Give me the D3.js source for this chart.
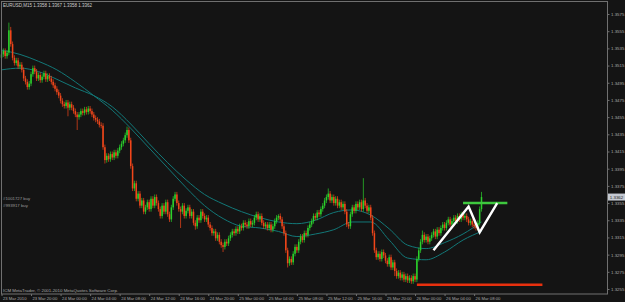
<!DOCTYPE html>
<html>
<head>
<meta charset="utf-8">
<script src="https://cdn.jsdelivr.net/npm/d3@7"></script>
<style>
  html, body { margin: 0; padding: 0; background: #141414; }
  svg { display: block; }
</style>
</head>
<body>
<svg id="chart"></svg>
<script>
// EURUSD M15, 23 Mar 16:00 -> 26 Mar 09:00 (2010)
// closes in pips above 1.3000, one per bar
const closes = [
  528,532,526,530,556,540,524,518,521,514,
  516,510,500,496,490,494,505,512,508,500,
  504,498,502,506,499,503,500,496,492,488,
  484,480,474,470,468,472,466,470,466,462,
  458,455,458,462,460,464,461,465,462,458,
  454,452,450,446,445,420,405,410,406,412,
  408,414,410,416,420,424,428,434,440,428,
  398,372,378,360,366,352,358,345,350,356,
  348,360,352,362,355,348,340,352,345,356,
  342,336,350,360,365,355,348,345,352,340,
  346,350,340,345,332,328,338,335,345,340,
  336,338,330,326,320,322,314,318,310,306,
  304,310,308,314,318,322,320,325,322,328,
  326,332,330,328,334,330,332,338,342,336,
  340,332,328,330,326,330,324,328,334,338,
  340,336,328,320,300,285,290,286,296,304,
  300,310,316,312,320,318,326,330,334,340,
  338,344,342,348,352,358,362,366,358,362,
  355,360,352,356,350,354,345,330,328,342,
  350,346,354,350,356,348,358,352,346,350,
  338,320,300,292,296,290,298,294,288,284,
  292,280,286,276,270,274,268,272,266,270,
  265,268,264,270,266,290,300,310,318,312,
  316,310,314,318,322,316,324,320,326,330,
  326,332,336,330,334,338,334,340,336,342,
  338,340,336,332,334,330,328,326,332,348,
  362
];
const firstOpen = 524;
// visible long wicks (bar index -> pips)
const highSpikes = {4: 565, 5: 560, 68: 444, 150: 342, 177: 372, 196: 384, 228: 323, 260: 368};
const lowSpikes = {36: 456, 41: 440, 56: 401, 97: 326, 105: 324, 120: 298, 155: 280, 213: 270, 222: 261};
const wickPad = 3;

// moving averages, sampled every 10 bars (pips above 1.3000)
const maIndex = [0,10,20,30,40,50,60,70,80,90,100,110,120,130,140,150,160,170,180,190,200,210,220,230,240,250,260];
const maSlow = [510,512,508,499,489,480,467,447,424,402,382,365,354,345,338,333,331,335,344,347,341,325,306,302,309,319,333];
const maFast = [533,528,520,510,496,480,463,442,419,396,373,352,337,328,326,322,316,319,324,333,333,312,291,289,298,312,322];

// hand-drawn objects
const zigIndex = [234, 253, 259, 268.5];
const zigPrice = [300, 351, 321, 355];
const greenLevel = {from: 250, to: 274, price: 355};
const redLevel = {from: 225, to: 293, price: 260};

const priceTicks = [1.3575,1.3555,1.3535,1.3515,1.3495,1.3475,1.3455,1.3435,1.3415,1.3395,1.3375,1.3355,1.3335,1.3315,1.3295,1.3275,1.3255];
const timeIndex = [0,16,32,48,64,80,96,112,128,144,160,176,192,208,224,240,256];
const timeLabels = ['23 Mar 2010','23 Mar 20:00','24 Mar 00:00','24 Mar 04:00','24 Mar 08:00','24 Mar 12:00','24 Mar 16:00','24 Mar 20:00','25 Mar 00:00','25 Mar 04:00','25 Mar 08:00','25 Mar 12:00','25 Mar 16:00','25 Mar 20:00','26 Mar 00:00','26 Mar 04:00','26 Mar 08:00'];
const lastPrice = 1.3362;
const header = 'EURUSD,M15  1.3358 1.3367 1.3358 1.3362';
const orderLabels = ['#1001727 buy', '#993917 buy'];
const footer = 'ICM MetaTrader, \u00A9 2001-2010 MetaQuotes Software Corp.';

const W = 625, H = 302;
const font = '"Liberation Sans", Arial, sans-serif';
const pip = (v) => 1.3 + v / 10000;

const svg = d3.select('#chart').attr('width', W).attr('height', H);
svg.append('rect').attr('width', W).attr('height', H).attr('fill', '#141414');

const x = d3.scaleLinear().domain([0, 260]).range([1.5, 481.5]);
const y = d3.scaleLinear().domain([1.3255, 1.3575]).range([289, 14]);

const bars = closes.map((c, i) => {
  const o = i === 0 ? firstOpen : closes[i - 1];
  const hi = highSpikes[i] !== undefined ? highSpikes[i] : Math.max(o, c) + wickPad;
  const lo = lowSpikes[i] !== undefined ? lowSpikes[i] : Math.min(o, c) - wickPad;
  return {i, o: pip(o), c: pip(c), h: pip(hi), l: pip(lo)};
});

// moving averages
const maLine = d3.line()
  .x((d) => x(d[0]))
  .y((d) => y(pip(d[1])))
  .curve(d3.curveMonotoneX);

[maSlow, maFast].forEach((ma) => {
  svg.append('path')
    .attr('d', maLine(maIndex.map((k, j) => [k, ma[j]])))
    .attr('fill', 'none')
    .attr('stroke', '#127878')
    .attr('stroke-width', 1);
});

// candles
const candle = svg.append('g').attr('class', 'candles');
const up = '#2bd12b', down = '#f2461a';

candle.selectAll('line')
  .data(bars)
  .enter()
  .append('line')
  .attr('x1', (d) => x(d.i))
  .attr('x2', (d) => x(d.i))
  .attr('y1', (d) => y(d.h))
  .attr('y2', (d) => y(d.l))
  .attr('stroke', (d) => d.c >= d.o ? up : down)
  .attr('stroke-width', 0.7);

candle.selectAll('rect')
  .data(bars)
  .enter()
  .append('rect')
  .attr('x', (d) => x(d.i) - 0.75)
  .attr('width', 1.5)
  .attr('y', (d) => y(Math.max(d.o, d.c)))
  .attr('height', (d) => Math.max(0.8, Math.abs(y(d.o) - y(d.c))))
  .attr('fill', (d) => d.c >= d.o ? up : down);

// levels and zigzag
svg.append('line')
  .attr('x1', x(redLevel.from)).attr('x2', x(redLevel.to))
  .attr('y1', y(pip(redLevel.price))).attr('y2', y(pip(redLevel.price)))
  .attr('stroke', '#e8300e').attr('stroke-width', 2.4);

svg.append('line')
  .attr('x1', x(greenLevel.from)).attr('x2', x(greenLevel.to))
  .attr('y1', y(pip(greenLevel.price))).attr('y2', y(pip(greenLevel.price)))
  .attr('stroke', '#3ec83e').attr('stroke-width', 2.4);

svg.append('path')
  .attr('d', d3.line()(zigIndex.map((k, j) => [x(k), y(pip(zigPrice[j]))])))
  .attr('fill', 'none')
  .attr('stroke', '#ffffff')
  .attr('stroke-width', 2.4);

// frame
svg.append('rect')
  .attr('x', 1.5).attr('y', 1.5)
  .attr('width', 606).attr('height', 292.5)
  .attr('fill', 'none')
  .attr('stroke', '#707070')
  .attr('stroke-width', 1);

// price axis
const yAxis = d3.axisRight(y)
  .tickValues(priceTicks)
  .tickFormat(d3.format('.4f'))
  .tickSize(2)
  .tickPadding(1.5);

const ya = svg.append('g')
  .attr('transform', 'translate(607.5,0)')
  .call(yAxis);
ya.select('.domain').remove();
ya.selectAll('line').attr('stroke', '#707070');
ya.selectAll('text')
  .attr('fill', '#a8a8a8')
  .style('font-family', font)
  .style('font-size', '4.4px');

// current price marker
const lp = svg.append('g').attr('transform', `translate(608,${y(lastPrice)})`);
lp.append('rect')
  .attr('x', 0).attr('y', -3.5)
  .attr('width', 17).attr('height', 7)
  .attr('fill', '#c4c9d2');
lp.append('text')
  .attr('x', 1.8).attr('y', 1.6)
  .attr('fill', '#1e1e1e')
  .style('font-family', font)
  .style('font-size', '4.4px')
  .text(d3.format('.4f')(lastPrice));

// time axis
const xAxis = d3.axisBottom(x)
  .tickValues(timeIndex)
  .tickFormat((d, i) => timeLabels[i])
  .tickSize(2)
  .tickPadding(1);

const xa = svg.append('g')
  .attr('transform', 'translate(0,294)')
  .call(xAxis);
xa.select('.domain').remove();
xa.selectAll('line').attr('stroke', '#707070');
xa.selectAll('text')
  .attr('text-anchor', 'start')
  .attr('dx', 1)
  .attr('fill', '#a8a8a8')
  .style('font-family', font)
  .style('font-size', '4.2px');

// texts
svg.append('text')
  .attr('x', 3).attr('y', 7)
  .attr('fill', '#cfcfcf')
  .style('font-family', font)
  .style('font-size', '4.5px')
  .text(header);

svg.selectAll('.order')
  .data(orderLabels)
  .enter()
  .append('text')
  .attr('class', 'order')
  .attr('x', 3)
  .attr('y', (d, i) => 199.5 + i * 7.5)
  .attr('fill', '#9a9a9a')
  .style('font-family', font)
  .style('font-size', '4.3px')
  .text((d) => d);

svg.append('text')
  .attr('x', 3).attr('y', 291.5)
  .attr('fill', '#a8a8a8')
  .style('font-family', font)
  .style('font-size', '4.4px')
  .text(footer);
</script>
</body>
</html>
